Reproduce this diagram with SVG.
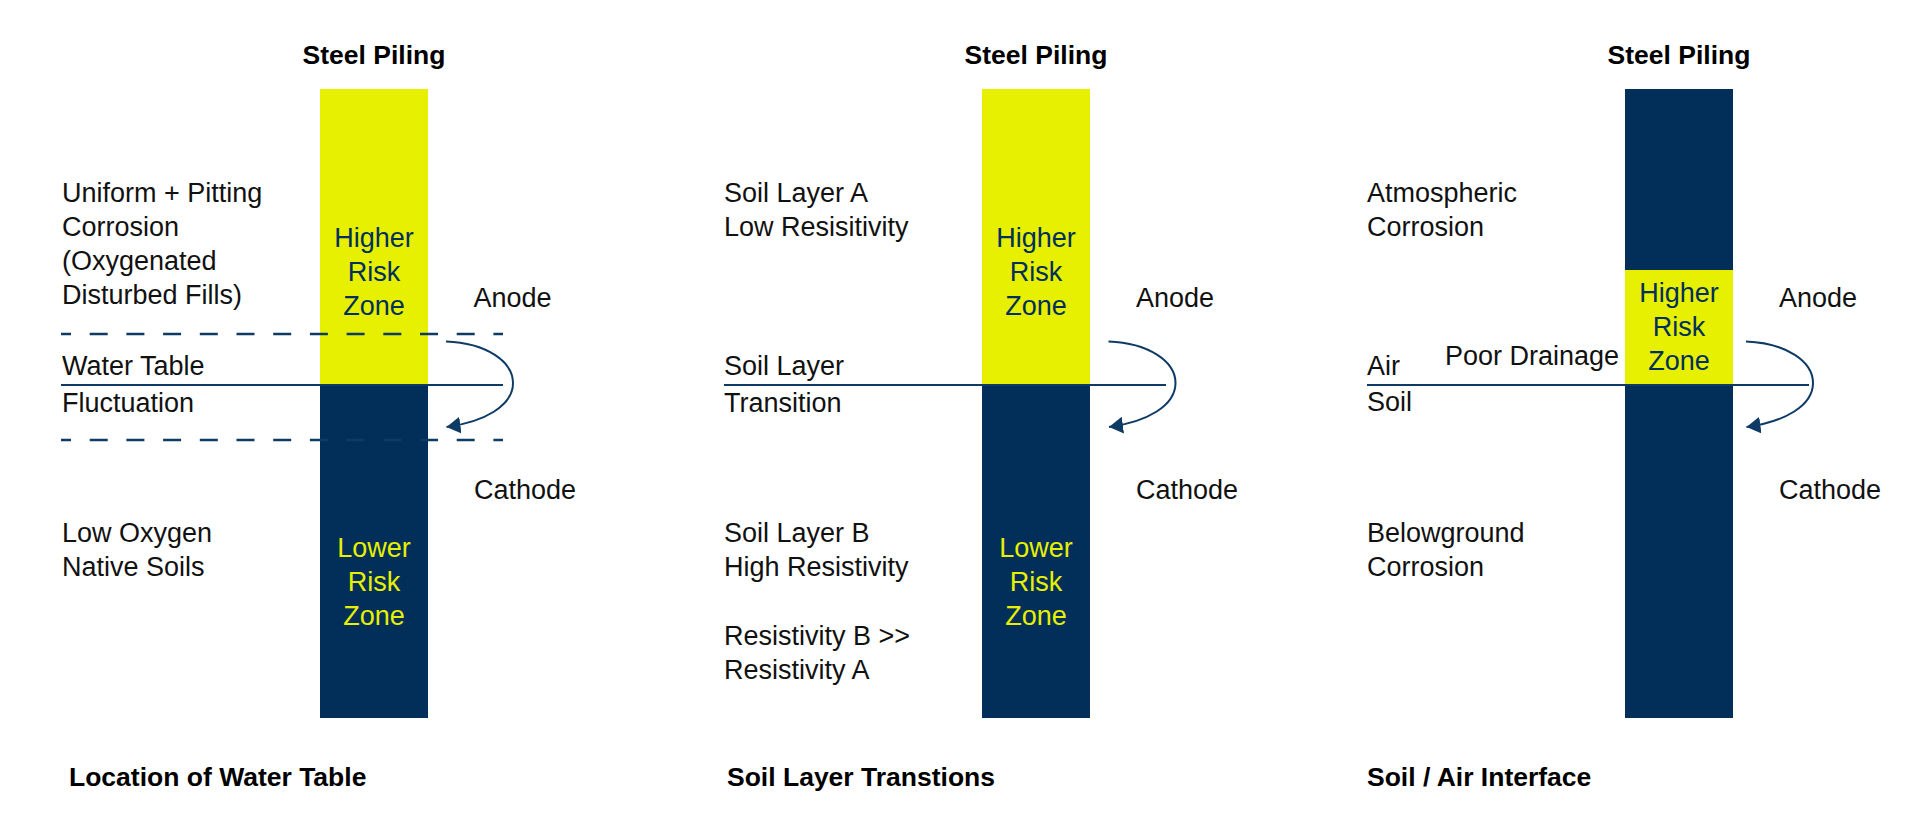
<svg xmlns="http://www.w3.org/2000/svg" width="1920" height="815" viewBox="0 0 1920 815">
  <defs>
    <style>
      .t { font-family: "Liberation Sans", Arial, sans-serif; font-size: 27px; fill: #111111; }
      .b { font-family: "Liberation Sans", Arial, sans-serif; font-size: 26.5px; font-weight: bold; fill: #000000; }
      .c { text-anchor: middle; }
      .hz { fill: #002F5C; }
      .lz { fill: #E6F000; }
      .navy { fill: #022E5A; }
      .yel { fill: #E6F000; }
      .ln { stroke: #0E3A66; stroke-width: 2.2; fill: none; }
      .dash { stroke: #0E3A66; stroke-width: 2.5; fill: none; stroke-dasharray: 18 18.7; stroke-dashoffset: 8; }
      .arc { stroke: #0E3A66; stroke-width: 2; fill: none; marker-end: url(#head); }
    </style>
    <marker id="head" viewBox="0 -9 15 18" refX="14" refY="0" markerWidth="15" markerHeight="18" markerUnits="userSpaceOnUse" orient="auto">
      <path d="M0,-8.5 L14,0 L0,8.5 Z" fill="#0E3A66"/>
    </marker>
  </defs>
  <rect width="1920" height="815" fill="#ffffff"/>

  <!-- Panel 1: Location of Water Table -->
  <g id="pile1">
    <rect class="yel" x="320" y="89" width="108" height="296"/>
    <rect class="navy" x="320" y="385" width="108" height="333"/>
    <text class="b c" x="374" y="64">Steel Piling</text>
    <text class="t c hz" x="374" y="246.5">Higher</text>
    <text class="t c hz" x="374" y="280.5">Risk</text>
    <text class="t c hz" x="374" y="314.5">Zone</text>
    <text class="t c lz" x="374" y="556.5">Lower</text>
    <text class="t c lz" x="374" y="590.5">Risk</text>
    <text class="t c lz" x="374" y="624.5">Zone</text>
  </g>
  <g id="lines1">
    <line class="dash" x1="61" y1="334" x2="503" y2="334"/>
    <line class="ln" x1="61" y1="385" x2="503" y2="385"/>
    <line class="dash" x1="61" y1="440" x2="503" y2="440"/>
  </g>
  <g id="labels1">
    <text class="t" x="62" y="201.5">Uniform + Pitting</text>
    <text class="t" x="62" y="235.5">Corrosion</text>
    <text class="t" x="62" y="269.5">(Oxygenated</text>
    <text class="t" x="62" y="303.5">Disturbed Fills)</text>
    <text class="t" x="62" y="375">Water Table</text>
    <text class="t" x="62" y="411.5">Fluctuation</text>
    <text class="t" x="62" y="541.5">Low Oxygen</text>
    <text class="t" x="62" y="575.5">Native Soils</text>
    <text class="t" x="473.5" y="306.5">Anode</text>
    <text class="t" x="474" y="499">Cathode</text>
    <text class="b" x="69" y="785.5">Location of Water Table</text>
  </g>

  <!-- Panel 2: Soil Layer Transtions -->
  <g id="pile2">
    <rect class="yel" x="982" y="89" width="108" height="296"/>
    <rect class="navy" x="982" y="385" width="108" height="333"/>
    <text class="b c" x="1036" y="64">Steel Piling</text>
    <text class="t c hz" x="1036" y="246.5">Higher</text>
    <text class="t c hz" x="1036" y="280.5">Risk</text>
    <text class="t c hz" x="1036" y="314.5">Zone</text>
    <text class="t c lz" x="1036" y="556.5">Lower</text>
    <text class="t c lz" x="1036" y="590.5">Risk</text>
    <text class="t c lz" x="1036" y="624.5">Zone</text>
  </g>
  <g id="lines2">
    <line class="ln" x1="724" y1="385" x2="1166" y2="385"/>
  </g>
  <g id="labels2">
    <text class="t" x="724" y="201.5">Soil Layer A</text>
    <text class="t" x="724" y="235.5">Low Resisitivity</text>
    <text class="t" x="724" y="375">Soil Layer</text>
    <text class="t" x="724" y="411.5">Transition</text>
    <text class="t" x="724" y="541.5">Soil Layer B</text>
    <text class="t" x="724" y="575.5">High Resistivity</text>
    <text class="t" x="724" y="645">Resistivity B &gt;&gt;</text>
    <text class="t" x="724" y="678.5">Resistivity A</text>
    <text class="t" x="1136" y="306.5">Anode</text>
    <text class="t" x="1136" y="499">Cathode</text>
    <text class="b" x="727" y="785.5">Soil Layer Transtions</text>
  </g>

  <!-- Panel 3: Soil / Air Interface -->
  <g id="pile3">
    <rect class="navy" x="1625" y="89" width="108" height="181"/>
    <rect class="yel" x="1625" y="270" width="108" height="115"/>
    <rect class="navy" x="1625" y="385" width="108" height="333"/>
    <text class="b c" x="1679" y="64">Steel Piling</text>
    <text class="t c hz" x="1679" y="301.5">Higher</text>
    <text class="t c hz" x="1679" y="335.5">Risk</text>
    <text class="t c hz" x="1679" y="369.5">Zone</text>
  </g>
  <g id="lines3">
    <line class="ln" x1="1367" y1="385" x2="1809" y2="385"/>
  </g>
  <g id="labels3">
    <text class="t" x="1367" y="201.5">Atmospheric</text>
    <text class="t" x="1367" y="235.5">Corrosion</text>
    <text class="t" x="1445" y="365">Poor Drainage</text>
    <text class="t" x="1367" y="375">Air</text>
    <text class="t" x="1367" y="410.5">Soil</text>
    <text class="t" x="1367" y="541.5">Belowground</text>
    <text class="t" x="1367" y="575.5">Corrosion</text>
    <text class="t" x="1779" y="306.5">Anode</text>
    <text class="t" x="1779" y="499">Cathode</text>
    <text class="b" x="1367" y="785.5">Soil / Air Interface</text>
  </g>

  <!-- Connectors: anode-to-cathode current arrows -->
  <g id="connectors">
    <path class="arc" d="M446,341.5 C487,343 513,362 513,383 C513,406 484,422 446.5,427"/>
    <path class="arc" d="M1108.5,341.5 C1149.5,343 1175.5,362 1175.5,383 C1175.5,406 1146.5,422 1109,427"/>
    <path class="arc" d="M1746,341.5 C1787,343 1813,362 1813,383 C1813,406 1784,422 1746.5,427"/>
  </g>
</svg>
